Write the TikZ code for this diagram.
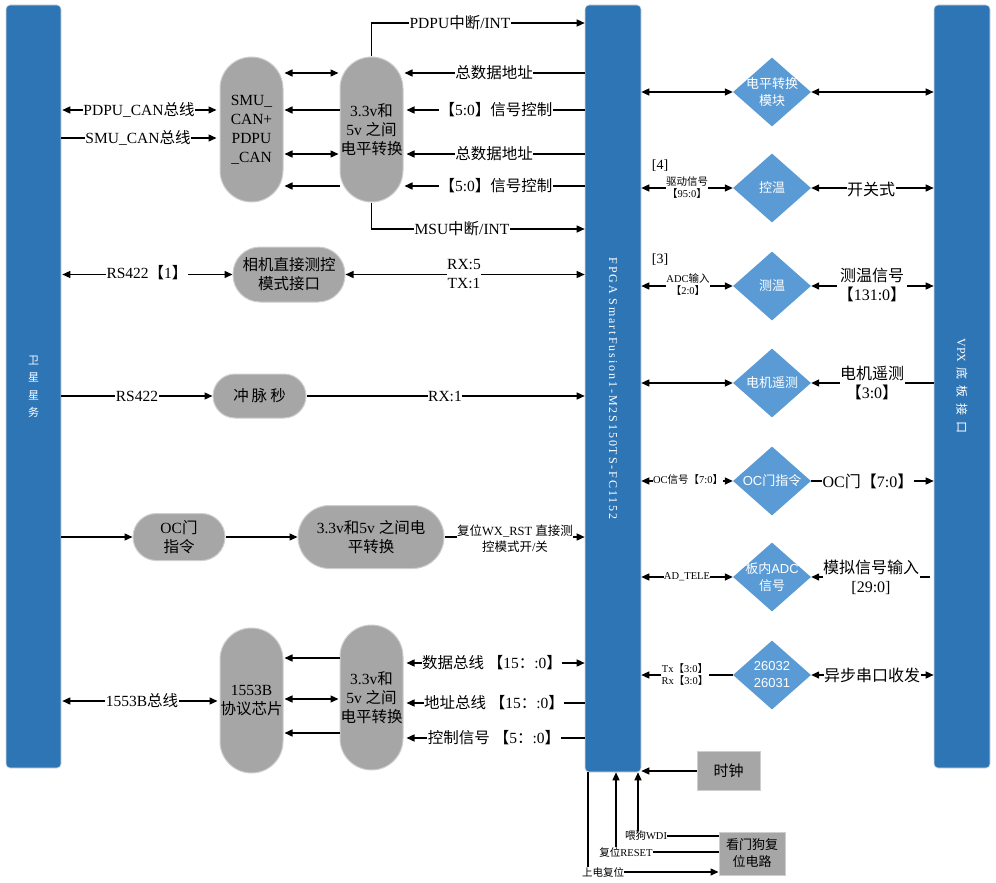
\documentclass[tikz,border=0pt]{standalone}
\usepackage{fontspec}
\setmainfont{Liberation Serif}
\setsansfont{Liberation Sans}
\newfontfamily\cjkfont{Noto Sans CJK SC}
\newfontfamily\spacedserif[LetterSpace=16]{Liberation Serif}
\usetikzlibrary{arrows.meta,shapes.geometric}
\XeTeXinterchartokenstate=1
\newXeTeXintercharclass\cjkcls
\newcount\cjkcnt
\cjkcnt="3000
\loop\XeTeXcharclass\cjkcnt=\cjkcls \ifnum\cjkcnt<"9FFF \advance\cjkcnt by 1 \repeat
\cjkcnt="FF00
\loop\XeTeXcharclass\cjkcnt=\cjkcls \ifnum\cjkcnt<"FFEF \advance\cjkcnt by 1 \repeat
\def\latinback{\rmfamily}
\XeTeXinterchartoks 0 \cjkcls={\cjkfont}
\XeTeXinterchartoks 4095 \cjkcls={\cjkfont}
\XeTeXinterchartoks \cjkcls 0={\latinback}
\XeTeXinterchartoks \cjkcls 4095={\latinback}
\definecolor{barblue}{RGB}{46,117,182}
\definecolor{diablue}{RGB}{91,155,213}
\definecolor{pillgray}{RGB}{166,166,166}
\newcommand\fsM{\fontsize{15.5}{19}\selectfont}
\newcommand\fsS{\fontsize{10.5}{12}\selectfont}
\newcommand\fsD{\fontsize{13}{17}\selectfont}
\newcommand\fsR{\fontsize{16}{19}\selectfont}
\begin{document}
\begin{tikzpicture}[x=1pt,y=-1pt,
  ar/.style={line width=1.4pt,-{Triangle[length=8pt,width=7pt]}},
  arr/.style={line width=1.4pt,{Triangle[length=8pt,width=7pt]}-{Triangle[length=8pt,width=7pt]}},
  ln/.style={line width=1.4pt},
  lbl/.style={fill=white,inner sep=0.5pt,font=\fsM,align=center},
  rlbl/.style={fill=white,inner sep=0.5pt,font=\fsR,align=center},
  slbl/.style={fill=white,inner sep=0.3pt,font=\fsS,align=center},
  pill/.style={fill=pillgray,draw=pillgray!55!white,line width=1pt,inner sep=0pt,align=center,font=\fsM},
  gbox/.style={fill=pillgray,draw=pillgray!55!white,line width=1pt,inner sep=0pt,align=center},
  bar/.style={fill=barblue,draw=black!15,line width=0.6pt,rounded corners=4pt,inner sep=0pt},
  dia/.style={shape=diamond,fill=diablue,minimum width=78pt,minimum height=69pt,inner sep=0pt},
  dtext/.style={text=white,align=center,font={\def\latinback{\sffamily}\sffamily\fsD}},
]
\useasboundingbox (0,0) rectangle (996,883);
% bars
\node[bar,minimum width=55pt,minimum height=763pt] (sat) at (33.5,386.5) {};
\node[bar,minimum width=56pt,minimum height=767pt] (fpga) at (613,388.5) {};
\node[bar,minimum width=56pt,minimum height=763pt] (vpx) at (962,386.5) {};
\node[text=white,align=center,font=\fontsize{11}{17.5}\selectfont] (satt) at (sat.center) {卫\\星\\星\\务};
\node[text=white,rotate=-90,font=\spacedserif\fontsize{12}{14}\selectfont] (fpgat) at (fpga.center) {FPGA SmartFusion1-M2S150TS-FC1152};
\node[text=white,rotate=-90,font=\fontsize{12}{14}\selectfont] (vpxt) at (962,386) {VPX\hspace{5pt}底\hspace{6pt}板\hspace{6pt}接\hspace{6pt}口};
% ---------- top group
\node[pill,minimum width=63pt,minimum height=145pt,rounded corners=31.5pt] (smu) at (251.5,129.5) {SMU\_\\CAN+\\PDPU\\\_CAN};
\node[pill,minimum width=63pt,minimum height=145pt,rounded corners=31.5pt] (lv) at (371.5,129.5) {3.3v和\\5v 之间\\电平转换};
\draw[ar] (lv.north) -- (lv.north |- 0,23) -- (fpga.west |- 0,23);
\node[lbl] (t1) at (460,23) {PDPU中断/INT};
\draw[ar] (lv.south) -- (lv.south |- 0,229) -- (fpga.west |- 0,229);
\node[lbl] (t2) at (462,229) {MSU中断/INT};
\draw[ar] (fpga.west |- 0,73) -- ([xshift=1pt]lv.east |- 0,73);
\node[lbl] (t3) at (494,73) {总数据地址};
\draw[ar] (fpga.west |- 0,110) -- ([xshift=3pt]lv.east |- 0,110);
\node[lbl] (t4) at (496,110) {【5:0】信号控制};
\draw[ar] (fpga.west |- 0,154) -- ([xshift=3pt]lv.east |- 0,154);
\node[lbl] (t5) at (494,154) {总数据地址};
\draw[ar] (fpga.west |- 0,186) -- ([xshift=1pt]lv.east |- 0,186);
\node[lbl] (t6) at (496,186) {【5:0】信号控制};
\draw[arr] ([xshift=1pt]smu.east |- 0,73) -- ([xshift=-1pt]lv.west |- 0,73);
\draw[ar] (lv.west |- 0,110) -- ([xshift=1pt]smu.east |- 0,110);
\draw[arr] ([xshift=1pt]smu.east |- 0,154) -- ([xshift=-1pt]lv.west |- 0,154);
\draw[ar] (lv.west |- 0,186) -- ([xshift=1pt]smu.east |- 0,186);
\draw[arr] ([xshift=1pt]sat.east |- 0,110) -- ([xshift=-3pt]smu.west |- 0,110);
\node[lbl] (t7) at (139,110) {PDPU\_CAN总线};
\draw[ar] (sat.east |- 0,138) -- ([xshift=-3pt]smu.west |- 0,138);
\node[lbl] (t8) at (138,138) {SMU\_CAN总线};
% ---------- middle
\node[pill,minimum width=112pt,minimum height=55pt,rounded corners=27pt] (cam) at (289,274.5) {相机直接测控\\模式接口};
\draw[arr] ([xshift=1pt]sat.east |- cam) -- (cam.west);
\node[lbl] (t9) at (147,273) {RS422【1】};
\draw[arr] (cam.east) -- (cam -| fpga.west);
\node[lbl] (t10) at (464,274) {RX:5\\TX:1};
\node[pill,minimum width=93pt,minimum height=44pt,rounded corners=22pt] (pps) at (259.5,396) {冲\hspace{3pt}脉\hspace{3pt}秒};
\draw[ar] (sat.east |- pps) -- (pps.west);
\node[lbl] (t11) at (137,396) {RS422};
\draw[ar] (pps.east) -- (pps -| fpga.west);
\node[lbl] (t12) at (445,396) {RX:1};
\node[pill,minimum width=92pt,minimum height=47pt,rounded corners=23.5pt] (ocp) at (179,537) {OC门\\指令};
\node[pill,minimum width=146pt,minimum height=63pt,rounded corners=31.5pt] (lv2) at (371,537) {3.3v和5v 之间电\\平转换};
\draw[ar] (sat.east |- ocp) -- (ocp.west);
\draw[ar] (ocp.east) -- (lv2.west);
\draw[ar] (lv2.east) -- (lv2 -| fpga.west);
\node[fill=white,inner sep=0.5pt,align=center,font=\fontsize{12.5}{16}\selectfont] (t13) at (515,539) {复位WX\_RST 直接测\\控模式开/关};
% ---------- bottom group
\node[pill,minimum width=63pt,minimum height=145pt,rounded corners=31.5pt] (b1553) at (251.5,700.5) {1553B\\协议芯片};
\node[pill,minimum width=63pt,minimum height=145pt,rounded corners=31.5pt] (lv3) at (371.5,697.5) {3.3v和\\5v 之间\\电平转换};
\draw[arr] ([xshift=1pt]sat.east |- 0,701) -- ([xshift=-2pt]b1553.west |- 0,701);
\node[lbl] (t14) at (142,701) {1553B总线};
\draw[ar] (lv3.west |- 0,658) -- ([xshift=1pt]b1553.east |- 0,658);
\draw[arr] ([xshift=1pt]b1553.east |- 0,699) -- ([xshift=-1pt]lv3.west |- 0,699);
\draw[ar] (lv3.west |- 0,733) -- ([xshift=1pt]b1553.east |- 0,733);
\draw[arr] ([xshift=3pt]lv3.east |- 0,663) -- (fpga.west |- 0,663);
\node[lbl] (t15) at (492,663) {数据总线 【15：:0】};
\draw[ar] (fpga.west |- 0,703) -- ([xshift=3pt]lv3.east |- 0,703);
\node[lbl] (t16) at (494,703) {地址总线 【15：:0】};
\draw[ar] (fpga.west |- 0,738) -- ([xshift=3pt]lv3.east |- 0,738);
\node[lbl] (t17) at (494,738) {控制信号 【5：:0】};
% ---------- right diamonds
\node[dia] (d1) at (772,92) {};
\node[dtext] (d1t) at (d1.center) {电平转换\\模块};
\draw[arr] (fpga.east |- d1) -- (d1.west);
\draw[arr] (d1.east) -- (d1 -| vpx.west);
\node[dia] (d2) at (772,188) {};
\node[dtext] (d2t) at (d2.center) {控温};
\draw[arr] (fpga.east |- d2) -- (d2.west);
\node[slbl] (t18) at (687,188) {驱动信号\\【95:0】};
\node[font=\fontsize{14}{16}\selectfont,inner sep=0pt] (t19) at (660,166) {[4]};
\draw[arr] (d2.east) -- (d2 -| vpx.west);
\node[rlbl] (t20) at (871,189) {开关式};
\node[dia] (d3) at (772,286) {};
\node[dtext] (d3t) at (d3.center) {测温};
\draw[arr] (fpga.east |- d3) -- (d3.west);
\node[slbl] (t21) at (688,285) {ADC输入\\【2:0】};
\node[font=\fontsize{14}{16}\selectfont,inner sep=0pt] (t22) at (660,260) {[3]};
\draw[arr] (d3.east) -- (d3 -| vpx.west);
\node[rlbl] (t23) at (872,285) {测温信号\\【131:0】};
\node[dia] (d4) at (772,383) {};
\node[dtext] (d4t) at (d4.center) {电机遥测};
\draw[arr] (fpga.east |- d4) -- (d4.west);
\draw[ar] (d4 -| vpx.west) -- (d4.east);
\node[rlbl] (t24) at (872,383) {电机遥测\\【3:0】};
\node[dia] (d5) at (772,481) {};
\node[dtext] (d5t) at (d5.center) {OC门指令};
\draw[arr] (fpga.east |- d5) -- (d5.west);
\node[slbl] (t25) at (688,480) {OC信号【7:0】};
\draw[ar] (d5.east) -- (d5 -| vpx.west);
\node[rlbl] (t26) at (868,481) {OC门【7:0】};
\node[dia] (d6) at (772,577) {};
\node[dtext] (d6t) at (d6.center) {板内ADC\\信号};
\draw[arr] (fpga.east |- d6) -- (d6.west);
\node[slbl] (t27) at (687,577) {AD\_TELE};
\draw[ar,shorten <=4pt] (d6 -| vpx.west) -- (d6.east);
\node[rlbl] (t28) at (871,577) {模拟信号输入\\{}[29:0]};
\node[dia] (d7) at (772,675) {};
\node[dtext] (d7t) at (d7.center) {26032\\26031};
\draw[ar] (d7.west) -- (fpga.east |- d7);
\node[slbl] (t29) at (685,675) {Tx【3:0】\\Rx【3:0】};
\draw[arr] (d7.east) -- (d7 -| vpx.west);
\node[rlbl] (t30) at (872,675) {异步串口收发};
% ---------- clock and watchdog
\node[gbox,minimum width=63pt,minimum height=39pt,font=\fontsize{15}{18}\selectfont] (clk) at (728.5,771) {时钟};
\draw[ar] (clk.west) -- (clk.west -| fpga.east);
\node[gbox,minimum width=66pt,minimum height=43pt,font=\fontsize{13}{17}\selectfont] (wd) at (752,853.5) {看门狗复\\位电路};
\coordinate (wdic) at (638,836);
\coordinate (rstc) at (616,852);
\coordinate (pwrc) at (588,872);
\draw[ar] (wd.west |- wdic) -- (wdic) -- (wdic |- fpga.south);
\draw[ar] (wd.west |- rstc) -- (rstc) -- (rstc |- fpga.south);
\draw[ar] (pwrc |- fpga.south) -- (pwrc) -- (pwrc -| wd.west);
\node[slbl] (t31) at (646,836) {喂狗WDI};
\node[slbl] (t32) at (626,852) {复位RESET};
\node[slbl] (t33) at (603,872) {上电复位};
\end{tikzpicture}
\end{document}
